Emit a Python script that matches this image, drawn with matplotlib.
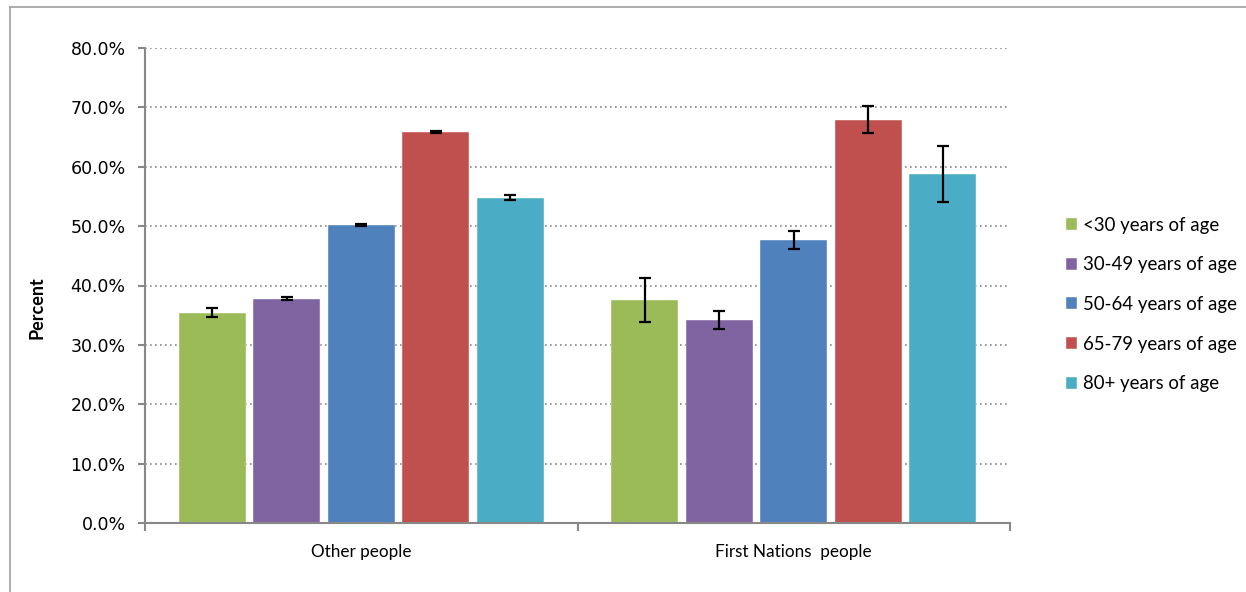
import matplotlib
matplotlib.use("Agg")
import matplotlib.pyplot as plt
import numpy as np
from matplotlib.lines import Line2D
from matplotlib.ticker import FuncFormatter

categories = ["Other people", "First Nations  people"]
series = ["<30 years of age", "30-49 years of age", "50-64 years of age",
          "65-79 years of age", "80+ years of age"]
values = {
    "<30 years of age":   [35.4, 37.5],
    "30-49 years of age": [37.8, 34.2],
    "50-64 years of age": [50.2, 47.6],
    "65-79 years of age": [65.9, 67.9],
    "80+ years of age":   [54.8, 58.8],
}
errors = {
    "<30 years of age":   [0.75, 3.7],
    "30-49 years of age": [0.2, 1.5],
    "50-64 years of age": [0.15, 1.5],
    "65-79 years of age": [0.15, 2.3],
    "80+ years of age":   [0.4, 4.75],
}
colors = ["#9BBB59", "#8064A2", "#4F81BD", "#C0504D", "#4BACC6"]
yticks = [0, 10, 20, 30, 40, 50, 60, 70, 80]

fig = plt.figure(figsize=(12.46, 5.92), dpi=100)
ax = fig.add_axes([145/1246, 1-523/592, (1010-145)/1246, (523-48)/592])

x = np.arange(len(categories))
spacing = 0.172
width = 0.155
for i, s in enumerate(series):
    off = (i - 2) * spacing
    ax.bar(x + off, values[s], width, color=colors[i], label=s, zorder=2,
           edgecolor="white", linewidth=0.3)
    ax.errorbar(x + off, values[s], yerr=errors[s], fmt="none", ecolor="black",
                elinewidth=1.6, capsize=4.2, capthick=1.6, zorder=3)

ax.set_xlim(-0.5, 1.5)
ax.set_ylim(0, 80)
ax.set_yticks(yticks)
ax.yaxis.set_major_formatter(FuncFormatter(lambda v, p: f"{v:.1f}%"))
ax.set_xticks([-0.5, 0.5, 1.5])
ax.set_xticklabels([])
ax.set_xticks(x, minor=True)
ax.set_xticklabels(categories, minor=True, fontfamily="Lato", fontsize=12.3)
ax.tick_params(axis="x", which="minor", length=0, pad=15)
ax.tick_params(axis="x", which="major", length=6, color="#888888", width=1.5)
ax.tick_params(axis="y", length=5, color="#888888", width=1.5, pad=9,
               labelsize=12.5)
for lab in ax.get_yticklabels():
    lab.set_fontfamily("DejaVu Sans")

ax.grid(axis="y", linestyle=(0, (1, 2)), color="#888888", linewidth=1.2, zorder=0)
ax.set_axisbelow(True)
for side in ["top", "right"]:
    ax.spines[side].set_visible(False)
for side in ["left", "bottom"]:
    ax.spines[side].set_color("#888888")
    ax.spines[side].set_linewidth(1.5)

ax.set_ylabel("Percent", fontfamily="Lato", fontweight="bold", fontsize=13)
ax.yaxis.set_label_coords((45 - 145) / 865, (523 - 308) / 475)

leg = ax.legend(loc="center left", bbox_to_anchor=(1.045, 0.46), frameon=False,
                prop={"family": "Lato", "size": 13.4}, handlelength=0.62,
                handleheight=0.62, handletextpad=0.3, labelspacing=1.22)

# outer frame lines
fig.add_artist(Line2D([10/1246, 1], [1-7/592, 1-7/592], color="#a6a6a6",
                      linewidth=1.3, transform=fig.transFigure))
fig.add_artist(Line2D([10/1246, 10/1246], [0, 1-7/592], color="#a6a6a6",
                      linewidth=1.3, transform=fig.transFigure))

fig.savefig("out.png", dpi=100)
